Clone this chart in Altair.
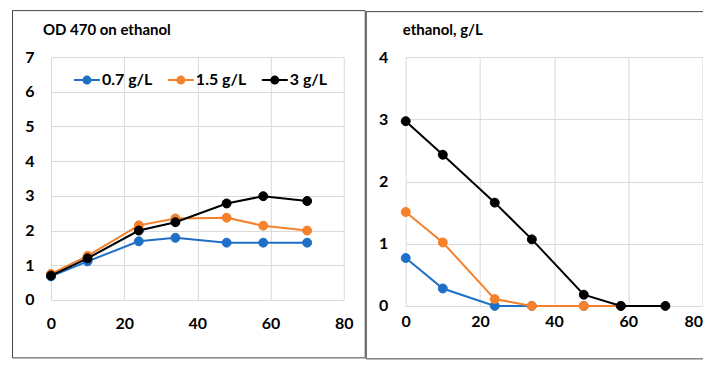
import altair as alt
import pandas as pd

# ---- data ----
series_names = ["0.7 g/L", "1.5 g/L", "3 g/L"]
series_colors = ["#1F6FC6", "#F5812B", "#000000"]

time_h = [0, 10, 24, 34, 48, 58, 70]

od_07 = [0.68, 1.11, 1.69, 1.79, 1.65, 1.65, 1.65]
od_15 = [0.75, 1.27, 2.15, 2.35, 2.37, 2.14, 2.00]
od_30 = [0.70, 1.20, 2.00, 2.24, 2.78, 2.99, 2.85]

eth_time_07 = [0, 10, 24, 34, 48, 58]
eth_07 = [0.77, 0.28, 0.00, 0.00, 0.00, 0.00]
eth_time_15 = [0, 10, 24, 34, 48, 58]
eth_15 = [1.51, 1.02, 0.11, 0.00, 0.00, 0.00]
eth_time_30 = [0, 10, 24, 34, 48, 58, 70]
eth_30 = [2.97, 2.43, 1.66, 1.07, 0.18, 0.00, 0.00]

x_ticks = [0, 20, 40, 60, 80]
od_ticks = [0, 1, 2, 3, 4, 5, 6, 7]
eth_ticks = [0, 1, 2, 3, 4]


def frame_df(ts, vals, name):
    return pd.DataFrame({"t": ts, "v": vals, "series": name})


od_frames = [frame_df(time_h, od_07, series_names[0]),
             frame_df(time_h, od_15, series_names[1]),
             frame_df(time_h, od_30, series_names[2])]
eth_frames = [frame_df(eth_time_07, eth_07, series_names[0]),
              frame_df(eth_time_15, eth_15, series_names[1]),
              frame_df(eth_time_30, eth_30, series_names[2])]

FONT = "Lato"
GRID = "#D9D9D9"
FRAME = "#444444"

legend_path = ("M-1,0L1,0M-0.27,0A0.27,0.27,0,1,1,0.27,0"
               "A0.27,0.27,0,1,1,-0.27,0Z")


def make_legend():
    return alt.Legend(
        title=None, orient="none", legendX=22, legendY=9,
        direction="horizontal", symbolType=legend_path, symbolSize=676,
        symbolStrokeWidth=2, labelFont=FONT, labelFontSize=16,
        labelFontWeight="bold", labelColor="black", labelOffset=1,
        columnPadding=11,
    )


def panel(frames, ymax, yticks, title, tx, ty, w, h,
          xpad, ypad, frame_box, with_legend, last_right=False):
    xalign = ({"expr": "datum.value == 80 ? 'right' : 'center'"}
              if last_right else "center")
    x = alt.X("t:Q", scale=alt.Scale(domain=[0, 80], nice=False),
              axis=alt.Axis(values=x_ticks, title=None, grid=True,
                            gridColor=GRID, domain=False, ticks=False,
                            labelFlush=False, labelAlign=xalign,
                            labelFont=FONT, labelFontSize=16,
                            labelFontWeight="bold", labelColor="black",
                            labelPadding=xpad))
    y = alt.Y("v:Q", scale=alt.Scale(domain=[0, ymax], nice=False),
              axis=alt.Axis(values=yticks, title=None, grid=True,
                            gridColor=GRID, domain=False, ticks=False,
                            labelFlush=False,
                            labelFont=FONT, labelFontSize=16,
                            labelFontWeight="bold", labelColor="black",
                            labelPadding=ypad))
    fscale = alt.Scale(domain=series_names, range=series_colors)
    layers = []
    for i, df in enumerate(frames):
        base = alt.Chart(df)
        line = base.mark_line(strokeWidth=2, color=series_colors[i]).encode(
            x=x, y=y)
        leg = make_legend() if with_legend else None
        pts = base.mark_point(filled=True, strokeWidth=1,
                              opacity=1).encode(
            x=x, y=y,
            fill=alt.Fill("series:N", scale=fscale, legend=leg),
            stroke=alt.Stroke("series:N", scale=fscale, legend=leg),
        )
        layers += [line, pts]
    single = alt.Chart(pd.DataFrame({"a": [0]}))
    fx1, fx2, fy1, fy2 = frame_box
    frame = single.mark_rect(
        filled=False, stroke=FRAME, strokeWidth=1).encode(
        x=alt.value(fx1), x2=alt.value(fx2),
        y=alt.value(fy1), y2=alt.value(fy2))
    ttl = single.mark_text(
        align="left", baseline="alphabetic", font=FONT, fontSize=15,
        fontWeight="bold", color="black").encode(
        x=alt.value(tx), y=alt.value(ty), text=alt.value(title))
    layers += [frame, ttl]
    return alt.layer(*layers).properties(width=w, height=h)


left = panel(od_frames, 7, od_ticks, "OD 470 on ethanol", -8, -22, 293, 243,
             16, 17, (-38.5, 314.5, -46.5, 301), True)
right = panel(eth_frames, 4, eth_ticks, "ethanol, g/L", -3, -22, 297, 249,
              8, 18, (-39.5, 310, -45.5, 302), False, last_right=True)

chart = alt.hconcat(left, right, spacing=0).resolve_scale(
    fill="independent", stroke="independent"
).properties(
    padding={"left": 4, "top": 2, "right": -13.5, "bottom": 0},
    background="white",
).configure_view(stroke=None).configure_point(size=80)

chart.save("out.html", embed_options={"renderer": "svg", "actions": False})
